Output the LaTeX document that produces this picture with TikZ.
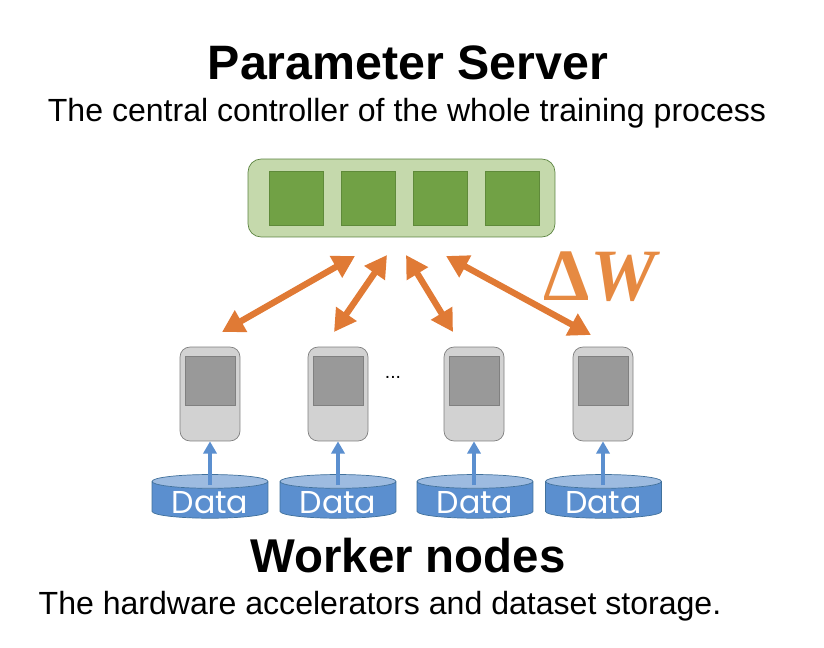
\documentclass[tikz,border=0pt]{standalone}
\usepackage{fontspec}
\setmainfont{Liberation Sans}
\newfontfamily\datafont{Poppins}
\newfontfamily\deltafont{Liberation Serif}
\usetikzlibrary{arrows.meta,shapes.geometric}
\definecolor{serverfill}{HTML}{C5D9AC}
\definecolor{serverline}{HTML}{5B8340}
\definecolor{slotfill}{HTML}{71A145}
\definecolor{slotline}{HTML}{5F8A3A}
\definecolor{workerfill}{HTML}{D2D2D2}
\definecolor{workerline}{HTML}{7F7F7F}
\definecolor{screenfill}{HTML}{999999}
\definecolor{screenline}{HTML}{808080}
\definecolor{datafill}{HTML}{5B8FCF}
\definecolor{datatop}{HTML}{9DBBE0}
\definecolor{dataline}{HTML}{41719C}
\definecolor{syncorange}{HTML}{E07A35}
\definecolor{deltaorange}{HTML}{E68A42}

\begin{document}
\begin{tikzpicture}[
    x=0.02cm, y=-0.02cm,
    every node/.style={inner sep=0pt},
    title/.style={font=\bfseries\fontsize{27.5}{30}\selectfont},
    caption/.style={font=\fontsize{18.25}{21}\selectfont},
    server/.style={draw=serverline, fill=serverfill, rounded corners=0.26cm,
                   minimum width=6.14cm, minimum height=1.56cm},
    slot/.style={draw=slotline, fill=slotfill, minimum width=1.08cm, minimum height=1.08cm},
    worker/.style={draw=workerline, fill=workerfill, rounded corners=0.2cm,
                   minimum width=1.2cm, minimum height=1.88cm},
    screen/.style={draw=screenline, fill=screenfill, minimum width=1cm, minimum height=0.98cm},
    data/.style={cylinder, shape border rotate=90, aspect=0.18, draw=dataline,
                 cylinder uses custom fill, cylinder body fill=datafill, cylinder end fill=datatop,
                 minimum width=2.32cm, minimum height=0.86cm,
                 text=white, text height=15.5pt, text depth=0pt, inner ysep=-1.3pt,
                 font=\datafont\fontsize{18}{20}\selectfont},
    sync/.style={{Triangle[length=12.5pt,width=13.5pt]}-{Triangle[length=12.5pt,width=13.5pt]},
                 draw=syncorange, line width=3.6pt},
    feed/.style={-{Triangle[length=7pt,width=7.5pt]}, draw=datafill, line width=2.2pt},
  ]
  \useasboundingbox (0,0) rectangle (824,648);

  % Server
  \node[title] (title) at (408,63) {Parameter Server};
  \node[caption] (subtitle) at (407,113) {The central controller of the whole training process};
  \node[server] (server) at (401.5,198) {};
  \node[slot] (slot1) at (296,198) {};
  \node[slot] (slot2) at (368,198) {};
  \node[slot] (slot3) at (440,198) {};
  \node[slot] (slot4) at (512,198) {};

  % Workers
  \node[worker] (worker1) at (210,394) {};
  \node[worker] (worker2) at (338,394) {};
  \node[worker] (worker3) at (474,394) {};
  \node[worker] (worker4) at (603,394) {};
  \node[screen] (screen1) at (210,380.5) {};
  \node[screen] (screen2) at (338,380.5) {};
  \node[screen] (screen3) at (474,380.5) {};
  \node[screen] (screen4) at (603,380.5) {};
  \node[font=\fontsize{11}{12}\selectfont] (dots) at (393,377) {...};

  % Data stores
  \node[data] (data1) at (210,500) {Data};
  \node[data] (data2) at (338,500) {Data};
  \node[data] (data3) at (475,500) {Data};
  \node[data] (data4) at (603.5,500) {Data};

  \coordinate (feed1) at (210,485);
  \coordinate (feed2) at (338,485);
  \coordinate (feed3) at (474,485);
  \coordinate (feed4) at (603,485);
  \draw[feed] (feed1) -- (worker1.south);
  \draw[feed] (feed2) -- (worker2.south);
  \draw[feed] (feed3) -- (worker3.south);
  \draw[feed] (feed4) -- (worker4.south);

  % Updates
  \coordinate (up1) at (355,256);
  \coordinate (up2) at (387,255);
  \coordinate (up3) at (406,255);
  \coordinate (up4) at (446,256);
  \coordinate (down1) at (222,332);
  \coordinate (down2) at (334,332);
  \coordinate (down3) at (453,332);
  \coordinate (down4) at (591,335);
  \draw[sync] (down1) -- (up1);
  \draw[sync] (down2) -- (up2);
  \draw[sync] (down3) -- (up3);
  \draw[sync] (down4) -- (up4);
  \node[text=deltaorange, font=\deltafont\bfseries\fontsize{42}{45}\selectfont] (delta) at (602,277) {Δ\textit{W}};

  \node[title, font=\bfseries\fontsize{27}{30}\selectfont] (wtitle) at (408,556) {Worker nodes};
  \node[caption] (wcaption) at (380,606) {The hardware accelerators and dataset storage.};
\end{tikzpicture}
\end{document}
